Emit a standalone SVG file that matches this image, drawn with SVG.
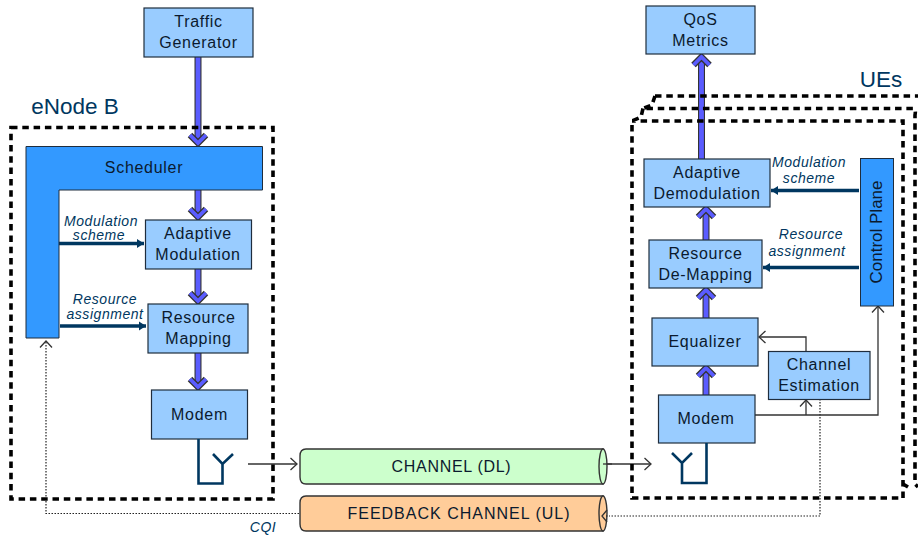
<svg xmlns="http://www.w3.org/2000/svg" width="918" height="537" viewBox="0 0 918 537">
<style>
text{font-family:"Liberation Sans",Arial,sans-serif;text-anchor:middle}
.lbl{font-size:16px;fill:#0b1a2e;letter-spacing:.7px}
.it{font-size:14px;font-style:italic;fill:#003760;letter-spacing:.55px}
.hd{font-size:22.500px;fill:#003760}
.box{fill:#99ccff;stroke:#1f2d3d;stroke-width:1.2}
.dash{fill:none;stroke:#000;stroke-width:3.6;stroke-dasharray:6.500 4.800}
.fat{fill:none;stroke:#333;stroke-width:7}
.fatin{fill:none;stroke:#5a5cff;stroke-width:4.800}
.head{fill:none;stroke:#333;stroke-width:6.400}
.headin{fill:none;stroke:#5a5cff;stroke-width:3.800}
.ctl{fill:none;stroke:#003760;stroke-width:3.400}
.thin{fill:none;stroke:#333;stroke-width:1.300}
.dot{fill:none;stroke:#222;stroke-width:1.200;stroke-dasharray:1.500 1.500}
.ant{fill:none;stroke:#003760;stroke-width:2.600}
.ch{stroke:#333;stroke-width:1.400}
</style>
<defs>
<marker id="ctlh" markerUnits="userSpaceOnUse" markerWidth="8" markerHeight="10" refX="7" refY="5" orient="auto"><path d="M0 0.500L7 5L0 9.500Z" fill="#003760"/></marker>
<marker id="open" markerUnits="userSpaceOnUse" markerWidth="10" markerHeight="14" refX="8" refY="7" orient="auto"><path d="M1.500 1L8 7L1.500 13" fill="none" stroke="#333" stroke-width="1.300"/></marker>
</defs>
<g id="connectors">
<path class="dot" d="M820 399V516H609"/>
<path class="dot" d="M299 513.500H46V341" marker-end="url(#open)"/>
<path class="thin" d="M755 415H878V306" marker-end="url(#open)"/>
<path class="thin" d="M806 415V400" marker-end="url(#open)"/>
<path class="thin" d="M806 351V337H759" marker-end="url(#open)"/>
<path class="thin" d="M248 464H297" marker-end="url(#open)"/>
<path class="thin" d="M603 464H651" marker-end="url(#open)"/>
<path class="ctl" d="M59 243.500H144" marker-end="url(#ctlh)"/>
<path class="ctl" d="M60 326H146" marker-end="url(#ctlh)"/>
<path class="ctl" d="M859 190.500H771" marker-end="url(#ctlh)"/>
<path class="ctl" d="M859 267.500H763" marker-end="url(#ctlh)"/>
<g id="flow-arrows">
<path class="fat" d="M198 57V143M198 190V217M198 269V301M198 353V387M706 395V368M706 318V290M706 240V209M701.500 159V57"/>
<path class="fatin" d="M198 57V143M198 190V217M198 269V301M198 353V387M706 395V368M706 318V290M706 240V209M701.500 159V57"/>
<path class="head" d="M190 135L198 143L206 135M190 209L198 217L206 209M190 293L198 301L206 293M190 379L198 387L206 379M698 376L706 368L714 376M698 298L706 290L714 298M698 217L706 209L714 217M693.500 65L701.500 57L709.500 65"/>
<path class="headin" d="M190 135L198 143L206 135M190 209L198 217L206 209M190 293L198 301L206 293M190 379L198 387L206 379M698 376L706 368L714 376M698 298L706 290L714 298M698 217L706 209L714 217M693.500 65L701.500 57L709.500 65"/>
</g>
</g>
<g id="enodeb-boundary"><path class="dash" d="M11 127.500H273V499H11Z"/><text class="hd" x="75" y="114">eNode B</text></g>
<g id="ues-boundary">
<path class="dash" d="M655 96H918"/>
<path class="dash" d="M655 96L652 105L643 108.500H914Q916 110 915 115V484L918 487"/>
<path class="dash" d="M643 108.500L641 117L632 121V498H903V121H632"/>
<path class="dash" d="M903 484L908 487"/>
<text class="hd" x="881" y="87">UEs</text>
</g>
<g id="traffic-generator"><rect class="box" x="144" y="8" width="109" height="49"/><text class="lbl" x="198.500" y="27">Traffic</text><text class="lbl" x="198.500" y="48">Generator</text></g>
<g id="qos-metrics"><rect class="box" x="646" y="6" width="109" height="48"/><text class="lbl" x="700.500" y="25">QoS</text><text class="lbl" x="700.500" y="46">Metrics</text></g>
<g id="scheduler"><path d="M26 146.500H262.500V190H59V338H26Z" fill="#3399ff" stroke="#1f2d3d" stroke-width="1"/><text class="lbl" x="144" y="173">Scheduler</text></g>
<g id="adaptive-modulation"><rect class="box" x="145.500" y="220" width="106" height="49"/><text class="lbl" x="198" y="239">Adaptive</text><text class="lbl" x="198" y="260">Modulation</text></g>
<g id="resource-mapping"><rect class="box" x="148" y="304" width="100" height="49"/><text class="lbl" x="198.500" y="323">Resource</text><text class="lbl" x="198.500" y="344">Mapping</text></g>
<g id="modem-tx"><rect class="box" x="151.500" y="390" width="96" height="49"/><text class="lbl" x="199.500" y="420">Modem</text></g>
<g id="antenna-tx"><path class="ant" d="M198.500 439V483.500H222.500V464M213 454L222.500 464L233 454"/></g>
<g id="adaptive-demodulation"><rect class="box" x="644" y="159" width="126" height="48"/><text class="lbl" x="707" y="178">Adaptive</text><text class="lbl" x="707" y="199">Demodulation</text></g>
<g id="resource-demapping"><rect class="box" x="649" y="240" width="113" height="48"/><text class="lbl" x="705.500" y="259">Resource</text><text class="lbl" x="705.500" y="280">De-Mapping</text></g>
<g id="equalizer"><rect class="box" x="652" y="318" width="106" height="48"/><text class="lbl" x="705" y="347">Equalizer</text></g>
<g id="channel-estimation"><rect class="box" x="768.500" y="351.500" width="101.500" height="48"/><text class="lbl" x="819" y="370">Channel</text><text class="lbl" x="819" y="391">Estimation</text></g>
<g id="modem-rx"><rect class="box" x="658.500" y="395" width="96.500" height="48"/><text class="lbl" x="706" y="424">Modem</text></g>
<g id="antenna-rx"><path class="ant" d="M706.500 443V483H682V463M672 453L682 463L692 453"/></g>
<g id="control-plane"><rect x="860.500" y="158.500" width="33" height="147.500" fill="#3399ff" stroke="#1f2d3d" stroke-width="1"/><text transform="translate(882 232) rotate(-90)" style="font-size:17px;fill:#0b1a2e">Control Plane</text></g>
<g id="channel-dl"><path class="ch" d="M603 449H306Q300 449 300 456V477Q300 484 306 484H603Z" fill="#ccffcc"/><ellipse class="ch" cx="603" cy="466.500" rx="4" ry="17.500" fill="#ccffcc"/><path class="thin" d="M603 464H612"/><text class="lbl" x="451.500" y="472">CHANNEL (DL)</text></g>
<g id="channel-ul"><path class="ch" d="M603 496H306Q300 496 300 503V524Q300 531 306 531H603Z" fill="#ffcc99"/><ellipse class="ch" cx="603" cy="513.500" rx="4" ry="17.500" fill="#ffcc99"/><path class="thin" d="M607 510L602 516L607 522"/><path class="dot" d="M606 516H609"/><text class="lbl" x="459" y="519" style="letter-spacing:1px">FEEDBACK CHANNEL (UL)</text></g>
<g id="connector-labels">
<text class="it" x="101" y="225.500">Modulation</text><text class="it" x="99" y="240">scheme</text>
<text class="it" x="105" y="304">Resource</text><text class="it" x="105" y="319">assignment</text>
<text class="it" x="809" y="166.500">Modulation</text><text class="it" x="809" y="183">scheme</text>
<text class="it" x="811" y="239">Resource</text><text class="it" x="807" y="256">assignment</text>
<text class="it" x="263" y="532">CQI</text>
</g>
</svg>
